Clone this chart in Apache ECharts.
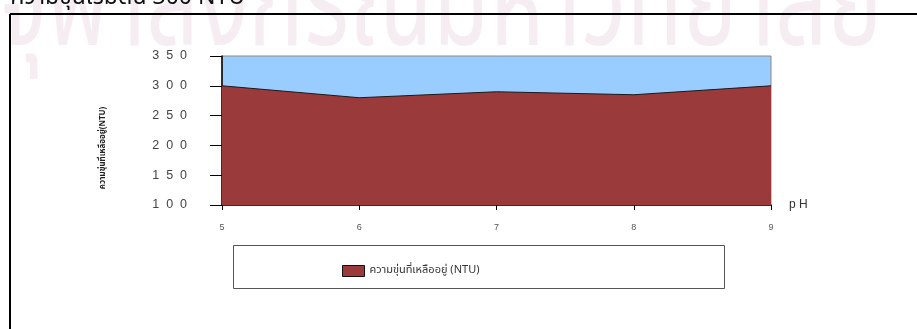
<!DOCTYPE html>
<html>
<head>
<meta charset="utf-8">
<script src="https://cdn.jsdelivr.net/npm/echarts@6/dist/echarts.min.js"></script>
<style>
  html, body { margin: 0; padding: 0; background: #fff; }
  #chart { width: 917px; height: 329px; }
</style>
</head>
<body>
<div id="chart"></div>
<script>
// pH values on the x axis and remaining turbidity (NTU) at each pH
const phValues = [5, 6, 7, 8, 9];
const turbidity = [300, 280, 290, 285, 300];
const yTicks = { min: 100, max: 350, step: 50 };
const seriesName = 'ความขุ่นที่เหลืออยู่ (NTU)';
const yAxisTitle = 'ความขุ่นที่เหลืออยู่(NTU)';
const xAxisTitle = 'p H';
const captionText = 'ความขุ่นเริ่มต้น 300 NTU';
const watermarkText = 'จุฬาลงกรณ์มหาวิทยาลัย';

const thaiFont = '"Noto Sans Thai", "Loma", "Garuda", "Tlwg Typo", "DejaVu Sans", sans-serif';
const spaced = v => String(v).split('').join('  ');

const chart = echarts.init(document.getElementById('chart'), null, { renderer: 'canvas' });

chart.setOption({
  animation: false,
  backgroundColor: '#ffffff',
  grid: {
    left: 222, right: 146, top: 56, bottom: 124,
    show: true,
    backgroundColor: '#99ccff',
    borderColor: '#8a8a8a',
    borderWidth: 1
  },
  xAxis: {
    type: 'value',
    min: phValues[0],
    max: phValues[phValues.length - 1],
    interval: 1,
    name: xAxisTitle,
    nameLocation: 'end',
    nameGap: 18,
    nameTextStyle: { fontSize: 12, color: '#333', fontFamily: 'Arial, "Liberation Sans", sans-serif', padding: [0, 0, 8, 0] },
    axisLine: { lineStyle: { color: '#000', width: 1.5 } },
    axisTick: { show: true, inside: false, length: 5, lineStyle: { color: '#000' } },
    axisLabel: { fontSize: 9, color: '#555', margin: 18, fontFamily: 'Arial, "Liberation Sans", sans-serif' },
    splitLine: { show: false }
  },
  yAxis: {
    type: 'value',
    min: yTicks.min,
    max: yTicks.max,
    interval: yTicks.step,
    axisLine: { show: true, lineStyle: { color: '#000', width: 1.5 } },
    axisTick: { show: true, inside: false, length: 12, lineStyle: { color: '#000' } },
    axisLabel: {
      fontSize: 12.5, color: '#444', margin: 35,
      fontFamily: 'Arial, "Liberation Sans", sans-serif',
      formatter: v => spaced(v)
    },
    splitLine: { show: false }
  },
  legend: {
    left: 337, top: 260,
    itemWidth: 22, itemHeight: 11, itemGap: 10,
    icon: 'rect',
    textStyle: { fontSize: 11, color: '#333', fontFamily: thaiFont },
    itemStyle: { color: '#9a3a3a', borderColor: '#111', borderWidth: 1 },
    data: [seriesName]
  },
  series: [{
    name: seriesName,
    type: 'line',
    data: phValues.map((p, i) => [p, turbidity[i]]),
    symbol: 'none',
    lineStyle: { color: '#1a1a1a', width: 1 },
    itemStyle: { color: '#9a3a3a' },
    areaStyle: {
      color: '#9a3a3a',
      opacity: 1,
      origin: 'start',
      decal: {
        symbol: 'rect',
        symbolSize: 1,
        dashArrayX: [1, 0],
        dashArrayY: [1, 2],
        rotation: Math.PI / 4,
        color: 'rgba(110, 30, 30, 0.45)'
      }
    },
    z: 3
  }],
  graphic: [
    // faint watermark across the top of the page
    {
      type: 'text', x: -2, y: -46, z: -10, silent: true,
      scaleX: 0.71,
      style: {
        text: watermarkText,
        font: '130px ' + thaiFont,
        fill: '#f6edf3',
        verticalAlign: 'top'
      }
    },
    // caption line, only its lower part falls inside the page
    {
      type: 'text', x: 245, y: 11, z: 1, silent: true,
      style: {
        text: captionText,
        font: '23px ' + thaiFont,
        fill: '#111',
        align: 'right',
        verticalAlign: 'bottom'
      }
    },
    // vertical axis title
    {
      type: 'text', x: 103, y: 148, z: 1, silent: true,
      rotation: Math.PI / 2,
      style: {
        text: yAxisTitle,
        font: 'bold 8px ' + thaiFont,
        fill: '#222',
        align: 'center',
        verticalAlign: 'middle'
      }
    },
    // page frame lines
    { type: 'line', z: 1, shape: { x1: 10, y1: 14, x2: 917, y2: 14 }, style: { stroke: '#000', lineWidth: 2 } },
    { type: 'line', z: 1, shape: { x1: 10, y1: 14, x2: 10, y2: 329 }, style: { stroke: '#000', lineWidth: 2 } },
    // legend box
    {
      type: 'rect', z: 1,
      shape: { x: 233.5, y: 245.5, width: 491, height: 43 },
      style: { fill: 'none', stroke: '#555', lineWidth: 1 }
    }
  ]
});
</script>
</body>
</html>
